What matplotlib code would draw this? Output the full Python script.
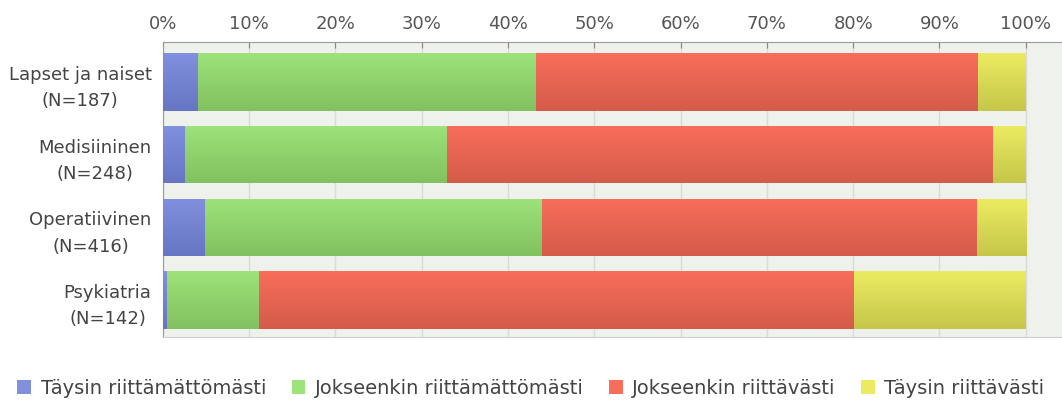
import matplotlib.pyplot as plt
import numpy as np
from matplotlib.colors import LinearSegmentedColormap
from matplotlib.patches import Patch

# shares per unit (%), one list per answer option
categories = ["Lapset ja naiset\n(N=187)", "Medisiininen\n(N=248)",
              "Operatiivinen\n(N=416)", "Psykiatria\n(N=142)"]
taysin_riittamattomasti = [4.1, 2.6, 4.9, 0.5]
jokseenkin_riittamattomasti = [39.2, 30.3, 39.0, 10.7]
jokseenkin_riittavasti = [51.2, 63.3, 50.4, 68.9]
taysin_riittavasti = [5.5, 3.8, 5.7, 19.9]

series = [
    ("Täysin riittämättömästi", taysin_riittamattomasti, "#8090de", "#6676c2"),
    ("Jokseenkin riittämättömästi", jokseenkin_riittamattomasti, "#9de27a", "#82c160"),
    ("Jokseenkin riittävästi", jokseenkin_riittavasti, "#f76e5a", "#d45b4a"),
    ("Täysin riittävästi", taysin_riittavasti, "#ebeb62", "#c6c64a"),
]
ticks = list(range(0, 101, 10))

plt.rcParams["font.family"] = "DejaVu Sans"
fig = plt.figure(figsize=(10.62, 4.03), dpi=100)
ax = fig.add_axes([0.1532, 0.1638, 0.8468, 0.7327])
ax.set_facecolor("#eff1ec")

y = np.arange(len(categories))
left = np.zeros(len(categories))
handles = []
for name, vals, c_top, c_bot in series:
    bars = ax.barh(y, vals, left=left, height=0.79, color=c_bot, linewidth=0, zorder=2)
    cmap = LinearSegmentedColormap.from_list(name, [c_top, c_bot])
    # vertical shading inside each bar
    for b in bars:
        x0, y0, w, h = b.get_x(), b.get_y(), b.get_width(), b.get_height()
        if w <= 0:
            continue
        im = ax.imshow(np.linspace(0, 1, 50).reshape(-1, 1), cmap=cmap,
                       extent=(x0, x0 + w, y0 + h, y0), aspect="auto",
                       interpolation="bilinear", zorder=3)
        im.set_clip_path(b)
    left += np.array(vals)
    handles.append(Patch(facecolor=c_top, edgecolor="none", label=name))

ax.set_xlim(0, 104.2)
ax.set_ylim(3.51, -0.554)
ax.set_xticks(ticks)
ax.set_xticklabels([f"{t}%" for t in ticks])
ax.xaxis.tick_top()
ax.set_yticks(y)
ax.set_yticklabels(categories, ha="right", multialignment="center", linespacing=1.6)
ax.tick_params(axis="x", direction="in", length=4, color="#888888",
               labelsize=13, labelcolor="#555555", pad=6)
ax.tick_params(axis="y", length=0, labelsize=13, labelcolor="#444444", pad=8)
ax.grid(axis="x", color="#d9dbd6", linewidth=1, zorder=1)
ax.set_axisbelow(True)

for side in ["top", "left"]:
    ax.spines[side].set_color("#999999")
ax.spines["bottom"].set_color("#cfcfcf")
ax.spines["right"].set_visible(False)

fig.legend(handles=handles, loc="center", bbox_to_anchor=(0.5, 0.037), ncol=4,
           frameon=False, fontsize=14, handlelength=0.7, handleheight=0.7,
           handletextpad=0.5, columnspacing=1.3, labelcolor="#444444")

fig.savefig("out.png", dpi=100, facecolor="white")
